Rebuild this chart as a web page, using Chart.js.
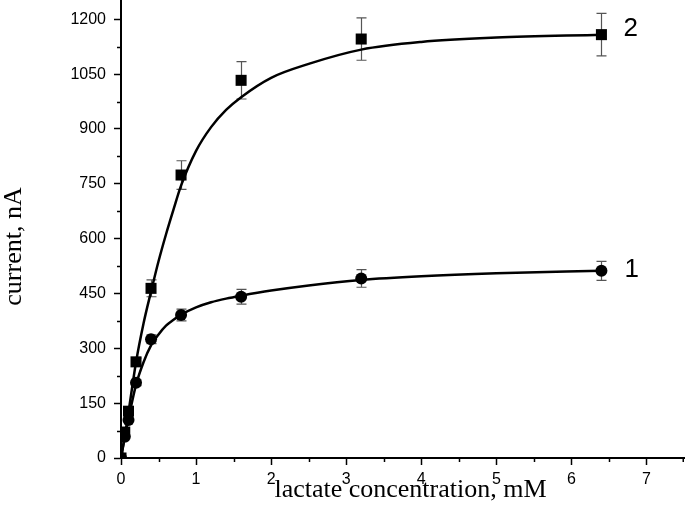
<!DOCTYPE html>
<html>
<head>
<meta charset="utf-8">
<script src="https://cdn.jsdelivr.net/npm/chart.js@4.4.1/dist/chart.umd.min.js"></script>
<style>
html,body{margin:0;padding:0;background:#fff;}
canvas{display:block;}
</style>
</head>
<body>
<canvas id="c" width="685" height="511"></canvas>
<script>
// Measured points (lactate concentration, mM)
const concentration = [0, 0.05, 0.1, 0.2, 0.4, 0.8, 1.6, 3.2, 6.4];
// Series 1 (circles)
const current1 = [0, 58, 104, 206, 325, 391, 441, 491, 512];
const error1   = [0, 0, 0, 8, 12, 16, 20, 24, 26];
// Series 2 (squares)
const current2 = [0, 71, 128, 263, 464, 774, 1033, 1146, 1158];
const error2   = [0, 0, 0, 10, 23, 39, 51, 58, 58];
// Fitted curves
const fitConc = [0, 0.05, 0.1, 0.2, 0.3, 0.4, 0.5, 0.6, 0.7, 0.8, 1.0, 1.2, 1.4, 1.6, 2.0, 2.5, 3.2, 4.0, 5.0, 6.4];
const fit1    = [0, 58, 108, 200, 262, 308, 338, 362, 378, 392, 412, 426, 436, 444, 458, 472, 487, 497, 505, 512];
const fit2    = [0, 58, 125, 262, 368, 455, 538, 612, 680, 745, 840, 905, 952, 987, 1040, 1078, 1117, 1138, 1150, 1158];
// Axis tick labels and titles
const xTickLabels = ['0', '1', '2', '3', '4', '5', '6', '7'];
const yTickLabels = ['0', '150', '300', '450', '600', '750', '900', '1050', '1200'];
const seriesNames = ['1', '2'];
const xTitle = 'lactate concentration, mM';
const yTitle = 'current, nA';

const pts = (xs, ys) => xs.map((x, i) => ({x: x, y: ys[i]}));

const errorBars = {
  id: 'errorBars',
  beforeDatasetsDraw(chart) {
    const xs = chart.scales.x, ys = chart.scales.y, ctx = chart.ctx;
    ctx.save();
    ctx.beginPath();
    ctx.rect(chart.chartArea.left, chart.chartArea.top, chart.chartArea.right - chart.chartArea.left, chart.chartArea.bottom - chart.chartArea.top);
    ctx.clip();
    ctx.strokeStyle = '#555';
    ctx.lineWidth = 1.2;
    [[current1, error1], [current2, error2]].forEach(([vals, errs]) => {
      concentration.forEach((c, i) => {
        if (!errs[i]) return;
        const px = Math.round(xs.getPixelForValue(c)) + 0.5;
        const t = ys.getPixelForValue(vals[i] + errs[i]);
        const b = ys.getPixelForValue(vals[i] - errs[i]);
        ctx.beginPath();
        ctx.moveTo(px, t); ctx.lineTo(px, b);
        ctx.moveTo(px - 5, t); ctx.lineTo(px + 5, t);
        ctx.moveTo(px - 5, b); ctx.lineTo(px + 5, b);
        ctx.stroke();
      });
    });
    ctx.restore();
  }
};

const extras = {
  id: 'extras',
  afterDraw(chart) {
    const xs = chart.scales.x, ys = chart.scales.y, ctx = chart.ctx;
    const area = chart.chartArea;
    ctx.save();
    ctx.strokeStyle = '#000';
    ctx.lineWidth = 1.5;
    // minor ticks
    for (let v = 75; v < ys.max; v += 150) {
      const p = Math.round(ys.getPixelForValue(v)) + 0.5;
      ctx.beginPath(); ctx.moveTo(area.left - 4, p); ctx.lineTo(area.left, p); ctx.stroke();
    }
    for (let v = 0.5; v <= xs.max + 1e-9; v += 1) {
      const p = Math.min(Math.round(xs.getPixelForValue(v)) + 0.5, area.right - 0.75);
      ctx.beginPath(); ctx.moveTo(p, area.bottom); ctx.lineTo(p, area.bottom + 4); ctx.stroke();
    }
    // series labels
    ctx.fillStyle = '#000';
    ctx.font = '26px "Liberation Sans", Arial, sans-serif';
    ctx.textBaseline = 'middle';
    ctx.textAlign = 'left';
    const lx = xs.getPixelForValue(concentration[concentration.length - 1]) + 22;
    ctx.fillText(seriesNames[1], lx, ys.getPixelForValue(current2[current2.length - 1]) - 6);
    ctx.fillText(seriesNames[0], lx + 1, ys.getPixelForValue(current1[current1.length - 1]) - 1);
    // axis titles
    ctx.font = '26px "Liberation Serif", "Times New Roman", serif';
    ctx.textAlign = 'center';
    ctx.textBaseline = 'alphabetic';
    ctx.fillText(xTitle, (area.left + area.right) / 2 + 8, 497);
    ctx.translate(21, (area.top + area.bottom) / 2 + 17);
    ctx.rotate(-Math.PI / 2);
    ctx.fillText(yTitle, 0, 0);
    ctx.restore();
  }
};

new Chart(document.getElementById('c'), {
  type: 'scatter',
  data: {
    datasets: [
      { label: 'fit 2', type: 'line', data: pts(fitConc, fit2), borderColor: '#000', borderWidth: 2.5,
        pointRadius: 0, cubicInterpolationMode: 'monotone', fill: false },
      { label: 'fit 1', type: 'line', data: pts(fitConc, fit1), borderColor: '#000', borderWidth: 2.5,
        pointRadius: 0, cubicInterpolationMode: 'monotone', fill: false },
      { label: seriesNames[1], data: pts(concentration, current2), pointStyle: 'rect', pointRadius: 7.8,
        backgroundColor: '#000', borderColor: '#000', borderWidth: 0, showLine: false },
      { label: seriesNames[0], data: pts(concentration, current1), pointStyle: 'circle', pointRadius: 6,
        backgroundColor: '#000', borderColor: '#000', borderWidth: 0, showLine: false }
    ]
  },
  options: {
    responsive: false,
    animation: false,
    devicePixelRatio: 1,
    layout: { autoPadding: false, padding: { top: 1, right: 1, left: 0, bottom: 0 } },
    plugins: { legend: { display: false }, tooltip: { enabled: false } },
    scales: {
      x: {
        type: 'linear', min: 0, max: 7.5,
        afterFit(s) { s.height = 53; s.paddingLeft = 0; s.paddingRight = 0; },
        border: { color: '#000', width: 2 },
        grid: { drawOnChartArea: false, drawTicks: true, tickLength: 7, tickWidth: 1.5, color: '#000',
          tickColor: (c) => (c.tick && Number.isInteger(c.tick.value)) ? '#000' : 'rgba(0,0,0,0)' },
        ticks: { stepSize: 1, includeBounds: false, autoSkip: false, maxRotation: 0, padding: 5, color: '#000',
          font: { family: '"Liberation Sans", Arial, sans-serif', size: 16 },
          callback: (v) => Number.isInteger(v) && v >= 0 && v < xTickLabels.length ? xTickLabels[v] : '' },
        title: { display: false }
      },
      y: {
        type: 'linear', min: 0, max: 1250,
        afterFit(s) { s.width = 121; s.paddingTop = 0; s.paddingBottom = 0; },
        border: { color: '#000', width: 2 },
        grid: { drawOnChartArea: false, drawTicks: true, tickLength: 7, tickWidth: 1.5, color: '#000',
          tickColor: (c) => (c.tick && c.tick.value % 150 === 0) ? '#000' : 'rgba(0,0,0,0)' },
        ticks: { stepSize: 150, includeBounds: false, autoSkip: false, padding: 8, color: '#000',
          font: { family: '"Liberation Sans", Arial, sans-serif', size: 16 },
          callback: (v) => (v % 150 === 0 && v / 150 < yTickLabels.length) ? yTickLabels[v / 150] : '' },
        title: { display: false }
      }
    }
  },
  plugins: [errorBars, extras]
});
</script>
</body>
</html>
